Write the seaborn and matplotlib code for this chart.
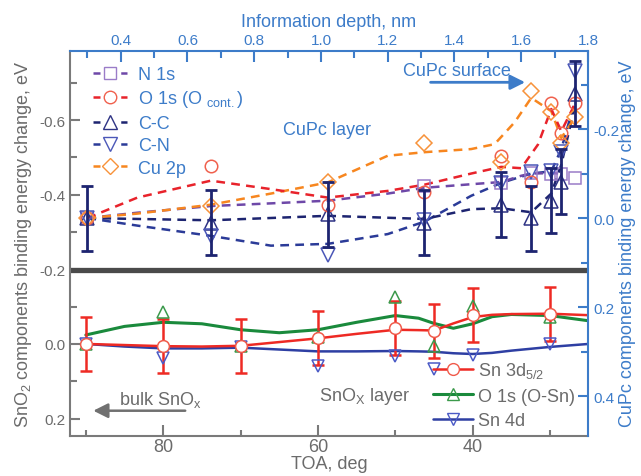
import matplotlib
matplotlib.use("Agg")
import matplotlib.pyplot as plt
from matplotlib.lines import Line2D
from matplotlib.ticker import MultipleLocator
import seaborn as sns

# ---- SnOx layer (lower part): TOA, deg  vs  left axis ----
toa = [90, 80, 70, 60, 50, 45, 40, 30]
sn3d = [0.0, 0.006, 0.006, -0.015, -0.042, -0.034, -0.078, -0.080]
sn3d_err = 0.072
o1s_sn = [0.0, -0.085, 0.006, -0.018, -0.125, 0.006, -0.103, -0.072]
sn4d = [0.0, 0.038, 0.009, 0.058, 0.033, 0.068, 0.029, 0.0]

# guide curves
toa_curve = [90, 85, 80, 75, 70, 65, 60, 55, 50, 47, 45, 42.5, 40, 37.5, 35, 30, 25]
sn3d_curve = [0.0, 0.003, 0.006, 0.007, 0.005, -0.005, -0.015, -0.027, -0.038, -0.037,
              -0.036, -0.055, -0.072, -0.078, -0.080, -0.081, -0.077]
o1s_sn_curve = [-0.024, -0.047, -0.058, -0.054, -0.038, -0.030, -0.038, -0.058, -0.076,
                -0.069, -0.055, -0.042, -0.054, -0.073, -0.079, -0.076, -0.062]
sn4d_curve = [0.0, 0.007, 0.012, 0.012, 0.010, 0.015, 0.020, 0.020, 0.019, 0.020,
              0.021, 0.025, 0.027, 0.024, 0.018, 0.008, 0.0]

# ---- CuPc layer (upper part): information depth, nm  vs  right axis ----
depth = [0.30, 0.67, 1.02, 1.31, 1.54, 1.63, 1.69, 1.72, 1.76]
n1s = [0.0, float("nan"), float("nan"), -0.073, -0.079, -0.101, -0.099, -0.099, -0.089]
o1s_cont = [0.0, -0.118, -0.029, -0.058, -0.139, -0.080, -0.258, -0.190, -0.258]
cc = [0.0, 0.010, -0.009, 0.010, -0.030, 0.0, -0.039, -0.082, -0.279]
cc_err = 0.073
cn = [0.0, 0.041, 0.083, 0.005, -0.079, -0.103, -0.106, -0.148, -0.331]
cu2p = [0.0, -0.028, -0.080, -0.169, -0.127, -0.286, -0.238, -0.168, -0.226]

n1s_cx = [0.30, 0.45, 0.67, 0.85, 1.02, 1.20, 1.31, 1.45, 1.54, 1.60, 1.63, 1.69, 1.72]
n1s_cy = [0.0, -0.012, -0.027, -0.033, -0.039, -0.055, -0.068, -0.076, -0.081, -0.095,
          -0.100, -0.101, -0.100]
o1s_cx = [0.30, 0.45, 0.67, 0.85, 1.02, 1.20, 1.31, 1.45, 1.54, 1.60, 1.65, 1.69, 1.72, 1.76]
o1s_cy = [0.0, -0.046, -0.084, -0.065, -0.046, -0.061, -0.075, -0.100, -0.115, -0.112,
          -0.165, -0.245, -0.195, -0.255]
cu2p_cx = [0.30, 0.45, 0.67, 0.85, 1.02, 1.20, 1.31, 1.45, 1.52, 1.58, 1.63, 1.69, 1.72, 1.76]
cu2p_cy = [0.0, -0.010, -0.030, -0.055, -0.080, -0.140, -0.148, -0.155, -0.166, -0.215,
           -0.270, -0.240, -0.180, -0.225]
cc_cx = [0.30, 0.67, 1.02, 1.31, 1.45, 1.54, 1.63, 1.69, 1.72, 1.76]
cc_cy = [0.0, 0.005, -0.005, 0.002, -0.020, -0.022, -0.013, -0.055, -0.120, -0.250]
cn_cx = [0.30, 0.45, 0.67, 0.85, 1.02, 1.20, 1.31, 1.45, 1.54, 1.63, 1.69, 1.72, 1.76]
cn_cy = [0.0, 0.017, 0.040, 0.062, 0.058, 0.036, 0.008, -0.050, -0.079, -0.100, -0.105,
         -0.155, -0.260]

blue = "#3d7cc9"
grey = "#6b6b6b"
navy = "#1d2470"

sns.set_theme(style="ticks")
plt.rcParams["font.family"] = ["Liberation Sans", "DejaVu Sans"]
plt.rcParams["mathtext.fontset"] = "custom"
plt.rcParams["mathtext.rm"] = "Liberation Sans"
plt.rcParams["axes.unicode_minus"] = False

fig = plt.figure(figsize=(6.41, 4.77), dpi=100)
ax = fig.add_axes([70 / 641, 1 - 436.7 / 477, 518 / 641, 385 / 477])
ax_r = ax.twinx()
ax_t = ax_r.twiny()

ax.set_xlim(92.05, 25.1)
ax.set_ylim(0.246, -0.786)
ax_r.set_ylim(0.489, -0.376)
ax_t.set_xlim(0.248, 1.8)

# separator between CuPc and SnOx parts
ax.axhline(-0.197, color="#4a4a4a", lw=3.8, zorder=1)

# ---- lower part ----
lw = 1.8
sns.lineplot(x=toa_curve, y=o1s_sn_curve, ax=ax, color="#1a8a3c", lw=2.2, sort=False, estimator=None)
sns.lineplot(x=toa_curve, y=sn4d_curve, ax=ax, color="#2e3fa3", lw=lw, sort=False, estimator=None)
sns.lineplot(x=toa_curve, y=sn3d_curve, ax=ax, color="#ee2a24", lw=lw, sort=False, estimator=None)
ax.errorbar(toa, sn3d, yerr=sn3d_err, fmt="none", ecolor="#ee2a24", elinewidth=1.8,
            capsize=4, capthick=1.8, zorder=3)
ax.plot(toa, o1s_sn, ls="none", marker="^", ms=9, mfc="none", mec="#3c9a4c", mew=1.1, zorder=4)
ax.plot(toa, sn4d, ls="none", marker="v", ms=9, mfc="none", mec="#4b5ac6", mew=1.1, zorder=4)
ax.plot(toa, sn3d, ls="none", marker="o", ms=8.5, mfc="white", mec="#f05a4a", mew=1.1, zorder=5)

# ---- upper part ----
dash = (0, (3.5, 2.5))
sns.lineplot(x=cn_cx, y=cn_cy, ax=ax_t, color="#2b3b98", lw=lw, ls=dash, sort=False, estimator=None)
sns.lineplot(x=cc_cx, y=cc_cy, ax=ax_t, color=navy, lw=lw, ls=dash, sort=False, estimator=None)
sns.lineplot(x=n1s_cx, y=n1s_cy, ax=ax_t, color="#6e48a8", lw=lw, ls=dash, sort=False, estimator=None)
sns.lineplot(x=cu2p_cx, y=cu2p_cy, ax=ax_t, color="#f7861f", lw=lw, ls=dash, sort=False, estimator=None)
sns.lineplot(x=o1s_cx, y=o1s_cy, ax=ax_t, color="#e8232b", lw=lw, ls=dash, sort=False, estimator=None)

mk = dict(ls="none", mfc="none", mew=1.1, zorder=4)
ax_t.plot(depth, n1s, marker="s", ms=8, mec="#9a7cc8", **mk)
ax_t.plot(depth, cc, marker="^", ms=10, mec="#2e3384", **mk)
ax_t.plot(depth, cn, marker="v", ms=10, mec="#4b57b8", **mk)
ax_t.plot(depth, o1s_cont, marker="o", ms=9, mec="#f0604d", **mk)
ax_t.plot(depth, cu2p, marker="D", ms=8, mec="#f7923a", **mk)
ax_t.errorbar(depth, cc, yerr=cc_err, fmt="none", ecolor=navy, elinewidth=2,
              capsize=4.5, capthick=2, zorder=5)

# ---- annotations ----
ax_t.text(1.408, -0.331, "CuPc surface", color=blue, fontsize=13, ha="center", va="center")
ax_t.annotate("", xy=(1.62, -0.305), xytext=(1.32, -0.305),
              arrowprops=dict(arrowstyle="-|>", color=blue, lw=2, mutation_scale=22))
ax_t.text(1.019, -0.198, "CuPc layer", color=blue, fontsize=13, ha="center", va="center")
ax.text(80.4, 0.147, r"bulk SnO$_\mathregular{x}$", color=grey, fontsize=13, ha="center", va="center")
ax.annotate("", xy=(89.4, 0.179), xytext=(76.8, 0.179),
            arrowprops=dict(arrowstyle="-|>", color="#707070", lw=1.8, mutation_scale=22))
ax.text(54.0, 0.139, r"SnO$_\mathregular{X}$ layer", color=grey, fontsize=13, ha="center", va="center")

# ---- legends ----
hd = (0, (2.8, 8.3))
up_handles = [
    Line2D([], [], color="#6e48a8", lw=lw, ls=hd, marker="s", ms=8, mfc="none", mec="#9a7cc8"),
    Line2D([], [], color="#e8232b", lw=lw, ls=hd, marker="o", ms=9, mfc="none", mec="#f0604d"),
    Line2D([], [], color=navy, lw=lw, ls=hd, marker="^", ms=10, mfc="none", mec="#2e3384"),
    Line2D([], [], color="#2b3b98", lw=lw, ls=hd, marker="v", ms=10, mfc="none", mec="#4b57b8"),
    Line2D([], [], color="#f7861f", lw=lw, ls=hd, marker="D", ms=8, mfc="none", mec="#f7923a"),
]
up_labels = ["N 1s", r"O 1s (O $_\mathregular{cont.}$)", "C-C", "C-N", "Cu 2p"]
ax_t.legend(up_handles, up_labels, loc="upper left", bbox_to_anchor=(93 / 641, 1 - 67 / 477),
            bbox_transform=fig.transFigure, frameon=False, fontsize=13, labelcolor=blue,
            handlelength=1.9, handletextpad=0.6, labelspacing=0.3, borderpad=0, borderaxespad=0)

low_handles = [
    Line2D([], [], color="#ee2a24", lw=lw, marker="o", ms=8.5, mfc="white", mec="#f05a4a"),
    Line2D([], [], color="#1a8a3c", lw=2.2, marker="^", ms=9, mfc="none", mec="#3c9a4c"),
    Line2D([], [], color="#2e3fa3", lw=lw, marker="v", ms=9, mfc="none", mec="#4b5ac6"),
]
low_labels = [r"Sn 3d$_\mathregular{5/2}$", "O 1s (O-Sn)", "Sn 4d"]
ax.legend(low_handles, low_labels, loc="upper left", bbox_to_anchor=(433 / 641, 1 - 361 / 477),
          bbox_transform=fig.transFigure, frameon=False, fontsize=13, labelcolor=grey,
          handlelength=2.2, handletextpad=0.3, labelspacing=0.42, borderpad=0, borderaxespad=0)

# ---- axes styling ----
for s in ["top", "right"]:
    ax.spines[s].set_visible(False)
for s in ["left", "bottom"]:
    ax.spines[s].set_color("#7a7a7a")
    ax.spines[s].set_linewidth(1.5)
for s in ["left", "top", "bottom"]:
    ax_r.spines[s].set_visible(False)
ax_r.spines["right"].set_color(blue)
ax_r.spines["right"].set_linewidth(1.5)
for s in ["left", "right", "bottom"]:
    ax_t.spines[s].set_visible(False)
ax_t.spines["top"].set_color(blue)
ax_t.spines["top"].set_linewidth(1.5)

ax.xaxis.set_major_locator(MultipleLocator(20))
ax.xaxis.set_minor_locator(MultipleLocator(10))
ax.yaxis.set_major_locator(MultipleLocator(0.2))
ax.yaxis.set_minor_locator(MultipleLocator(0.1))
ax_r.yaxis.set_major_locator(MultipleLocator(0.2))
ax_r.yaxis.set_minor_locator(MultipleLocator(0.1))
ax_t.xaxis.set_major_locator(MultipleLocator(0.2))
ax_t.xaxis.set_minor_locator(MultipleLocator(0.1))
ax.yaxis.set_major_formatter(lambda v, p: f"{v:.1f}".replace("-0.0", "0.0"))
ax_r.yaxis.set_major_formatter(lambda v, p: f"{v:.1f}".replace("-0.0", "0.0"))
ax_t.xaxis.set_major_formatter(lambda v, p: f"{v:.1f}")

ax.tick_params(axis="x", which="major", direction="in", length=8, width=1.5, colors="#7a7a7a",
               labelcolor=grey, labelsize=13, pad=2)
ax.tick_params(axis="x", which="minor", direction="in", length=4, width=1.5, colors="#7a7a7a")
ax.tick_params(axis="y", which="major", direction="in", length=7, width=1.5, colors="#7a7a7a",
               labelcolor=grey, labelsize=11, pad=3)
ax.tick_params(axis="y", which="minor", direction="in", length=5, width=1.5, colors="#7a7a7a")
ax_r.tick_params(axis="y", which="major", direction="in", length=7, width=1.5, colors=blue,
                 labelsize=11, pad=4)
ax_r.tick_params(axis="y", which="minor", direction="in", length=5, width=1.5, colors=blue)
ax_t.tick_params(axis="x", which="major", direction="in", length=8, width=1.5, colors=blue,
                 labelsize=11, pad=3)
ax_t.tick_params(axis="x", which="minor", direction="in", length=5, width=1.5, colors=blue)

ax.set_xlabel("TOA, deg", color=grey, fontsize=13, labelpad=0)
ax.set_ylabel(r"SnO$_\mathregular{2}$ components binding energy change, eV", color=grey, fontsize=13)
ax.yaxis.set_label_coords(-0.07, 0.5)
ax_r.set_ylabel("CuPc components binding energy change, eV", color=blue, fontsize=13)
ax_r.yaxis.set_label_coords(1.06, 0.5)
ax_t.set_xlabel("Information depth, nm", color=blue, fontsize=13, labelpad=5)

fig.savefig("out.png", dpi=100)
